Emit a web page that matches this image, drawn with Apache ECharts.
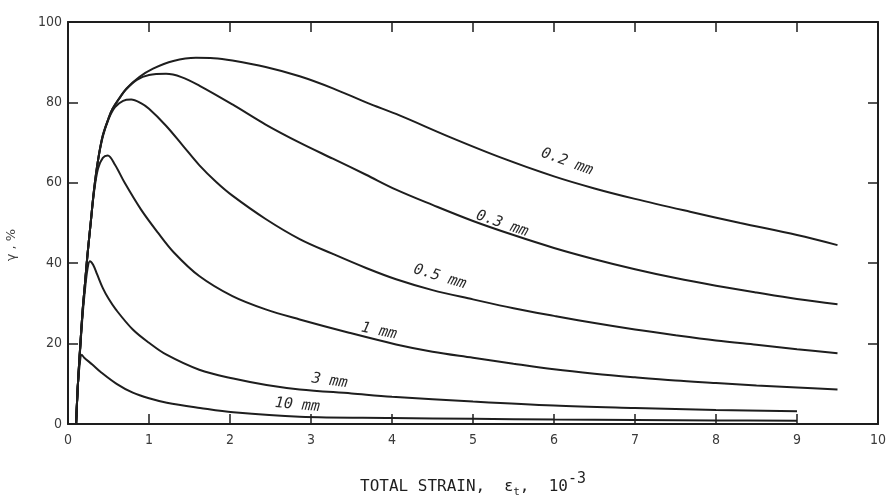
<!DOCTYPE html>
<html>
<head>
<meta charset="utf-8">
<script src="https://cdn.jsdelivr.net/npm/echarts@6/dist/echarts.min.js"></script>
<style>
  html, body { margin: 0; padding: 0; background: #ffffff; }
  #chart { width: 890px; height: 499px; }
</style>
</head>
<body>
<div id="chart"></div>
<script>
// ---- Data (total strain in 10^-3, gamma in %) ----
const xTicks = [0, 1, 2, 3, 4, 5, 6, 7, 8, 9, 10];
const yTicks = [0, 20, 40, 60, 80, 100];

const strain02 = [0.1, 0.12, 0.15, 0.18, 0.21, 0.24, 0.28, 0.32, 0.37, 0.43, 0.5, 0.55, 0.64, 0.72, 0.88, 1.05, 1.3, 1.58, 1.8, 2.03, 2.44, 2.86, 3.27, 3.68, 4.1, 4.7, 5.33, 6, 6.5, 7, 7.68, 8.3, 9, 9.5];
const gamma02  = [0, 9, 19, 28, 35, 42, 50, 58, 65.5, 71.8, 76, 78.4, 81.2, 83.4, 86.3, 88.4, 90.3, 91.1, 91.0, 90.4, 88.8, 86.5, 83.5, 80.0, 76.7, 71.5, 66.4, 61.6, 58.6, 56.0, 52.8, 50.0, 47.0, 44.5];

const strain03 = [0.1, 0.12, 0.15, 0.18, 0.21, 0.24, 0.28, 0.32, 0.37, 0.43, 0.5, 0.55, 0.64, 0.72, 0.85, 1.0, 1.21, 1.4, 1.62, 2.03, 2.44, 2.86, 3.27, 3.68, 4.05, 4.5, 5, 5.5, 6, 6.5, 7, 7.5, 8, 8.5, 9, 9.5];
const gamma03  = [0, 9, 19, 28, 35, 42, 50, 58, 65.5, 71.8, 76, 78.4, 81.2, 83.3, 85.6, 86.8, 87.1, 86.3, 84.2, 79.5, 74.5, 70, 66, 62, 58.3, 54.5, 50.5, 47, 43.8, 41, 38.5, 36.3, 34.4, 32.7, 31.1, 29.8];

const strain05 = [0.1, 0.12, 0.15, 0.18, 0.21, 0.24, 0.28, 0.32, 0.37, 0.43, 0.5, 0.58, 0.68, 0.78, 0.9, 1.0, 1.21, 1.42, 1.62, 1.83, 2.03, 2.44, 2.86, 3.27, 3.68, 4.05, 4.5, 5, 5.5, 6, 6.5, 7, 7.5, 8, 8.5, 9, 9.5];
const gamma05  = [0, 9, 19, 28, 35, 42, 50, 58, 65.5, 71.5, 75.8, 78.8, 80.4, 80.7, 79.8, 78.4, 74.2, 69.2, 64.4, 60.2, 56.8, 51, 46, 42.3, 38.8, 36, 33.3, 31, 28.8, 26.9, 25.1, 23.5, 22.1, 20.8, 19.7, 18.6, 17.6];

const strain1 = [0.1, 0.12, 0.15, 0.18, 0.21, 0.24, 0.28, 0.32, 0.37, 0.43, 0.49, 0.58, 0.7, 0.9, 1.11, 1.31, 1.62, 2.03, 2.44, 2.86, 3.47, 4.05, 4.5, 5, 5.5, 6, 6.5, 7, 7.5, 8, 8.5, 9, 9.5];
const gamma1  = [0, 9, 19, 28, 35, 42, 50, 57.5, 63.5, 66.2, 66.8, 64.5, 60, 53.4, 47.6, 42.6, 36.8, 31.8, 28.5, 26, 22.7, 19.8, 18, 16.5, 15.0, 13.6, 12.5, 11.6, 10.8, 10.2, 9.6, 9.1, 8.6];

const strain3 = [0.1, 0.12, 0.15, 0.18, 0.21, 0.24, 0.27, 0.31, 0.36, 0.43, 0.5, 0.59, 0.8, 1.0, 1.21, 1.62, 2.04, 2.45, 2.86, 3.5, 4, 5, 6, 7, 8, 9];
const gamma3  = [0, 9, 18.5, 27, 33.5, 38.5, 40.5, 39.6, 37.2, 33.8, 31.2, 28.5, 23.5, 20.2, 17.3, 13.5, 11.3, 9.7, 8.6, 7.6, 6.8, 5.6, 4.6, 4.0, 3.5, 3.2];

const strain10 = [0.1, 0.12, 0.14, 0.17, 0.2, 0.3, 0.4, 0.6, 0.8, 1.0, 1.22, 1.63, 2.04, 2.86, 4, 5, 6, 7, 8, 9];
const gamma10  = [0, 9, 14, 17.2, 16.5, 14.8, 13, 10.0, 7.8, 6.4, 5.3, 4.0, 2.9, 1.8, 1.5, 1.3, 1.1, 1.0, 0.9, 0.8];

const curveNames = ['0.2 mm', '0.3 mm', '0.5 mm', '1 mm', '3 mm', '10 mm'];
// label anchor in data coordinates and tilt (degrees)
const labelStrain = [6.16, 5.36, 4.59, 3.84, 3.23, 2.83];
const labelGamma  = [65.2, 49.8, 36.6, 23.1, 10.7, 4.7];
const labelTilt   = [-20, -19, -17, -12, -8, -5];

const curves = [
  [strain02, gamma02], [strain03, gamma03], [strain05, gamma05],
  [strain1, gamma1], [strain3, gamma3], [strain10, gamma10]
];

function pairs(xs, ys) { return xs.map((x, i) => [x, ys[i]]); }

const ink = '#1e1e1e';
const labelFont = '"Liberation Sans Narrow", "DejaVu Sans Condensed", "Liberation Sans", sans-serif';

const chart = echarts.init(document.getElementById('chart'), null, { renderer: 'canvas' });

const series = curves.map((c, i) => ({
  name: curveNames[i],
  type: 'line',
  data: pairs(c[0], c[1]),
  showSymbol: false,
  smooth: 0.35,
  lineStyle: { color: ink, width: 2 },
  silent: true,
  animation: false
}));

const tickStyle = { show: true, inside: true, length: 10, lineStyle: { color: ink, width: 1.5 } };
const lineStyleAxis = { show: true, onZero: false, lineStyle: { color: ink, width: 2 } };

chart.setOption({
  backgroundColor: '#ffffff',
  animation: false,
  grid: { left: 68, right: 12, top: 22, bottom: 75, containLabel: false, outerBoundsMode: 'none' },
  xAxis: [
    {
      type: 'value', min: xTicks[0], max: xTicks[xTicks.length - 1], interval: 1,
      position: 'bottom',
      axisLine: lineStyleAxis,
      axisTick: tickStyle,
      splitLine: { show: false },
      axisLabel: { color: '#3a3a3a', fontSize: 14, margin: 9, fontFamily: labelFont },
      name: '{a|TOTAL STRAIN,  }{e|\u03b5}{s|t}{a|,  10}{p|-3}',
      nameLocation: 'middle',
      nameGap: 48,
      nameTextStyle: {
        rich: {
          a: { fontSize: 16, color: ink, fontFamily: '"DejaVu Sans Mono", monospace' },
          e: { fontSize: 16, color: ink, fontFamily: '"DejaVu Sans", sans-serif' },
          s: { fontSize: 11, color: ink, fontFamily: '"DejaVu Sans Mono", monospace', padding: [12, 0, 0, 0] },
          p: { fontSize: 15, color: ink, fontFamily: '"DejaVu Sans Mono", monospace', padding: [0, 0, 14, 0] }
        }
      }
    },
    {
      type: 'value', min: xTicks[0], max: xTicks[xTicks.length - 1], interval: 1,
      position: 'top',
      axisLine: lineStyleAxis,
      axisTick: tickStyle,
      splitLine: { show: false },
      axisLabel: { show: false }
    }
  ],
  yAxis: [
    {
      type: 'value', min: yTicks[0], max: yTicks[yTicks.length - 1], interval: 20,
      position: 'left',
      axisLine: lineStyleAxis,
      axisTick: tickStyle,
      splitLine: { show: false },
      axisLabel: { color: '#3a3a3a', fontSize: 14, margin: 6, fontFamily: labelFont },
      name: '\u03b3 , %',
      nameLocation: 'middle',
      nameRotate: 90,
      nameGap: 50,
      nameTextStyle: { color: '#444', fontSize: 13, fontFamily: '"DejaVu Sans", sans-serif', padding: [0, 44, 0, 0] }
    },
    {
      type: 'value', min: yTicks[0], max: yTicks[yTicks.length - 1], interval: 20,
      position: 'right',
      axisLine: lineStyleAxis,
      axisTick: tickStyle,
      splitLine: { show: false },
      axisLabel: { show: false }
    }
  ],
  series: series
});

// curve labels placed at data coordinates
const graphics = curveNames.map((t, i) => {
  const p = chart.convertToPixel({ xAxisIndex: 0, yAxisIndex: 0 }, [labelStrain[i], labelGamma[i]]);
  return {
    type: 'text',
    x: p[0], y: p[1],
    rotation: labelTilt[i] * Math.PI / 180,
    silent: true,
    style: {
      text: t,
      fill: '#2a2a2a',
      font: 'italic 15px "DejaVu Sans Mono", monospace',
      align: 'center',
      verticalAlign: 'middle'
    }
  };
});
chart.setOption({ graphic: graphics });
</script>
</body>
</html>
